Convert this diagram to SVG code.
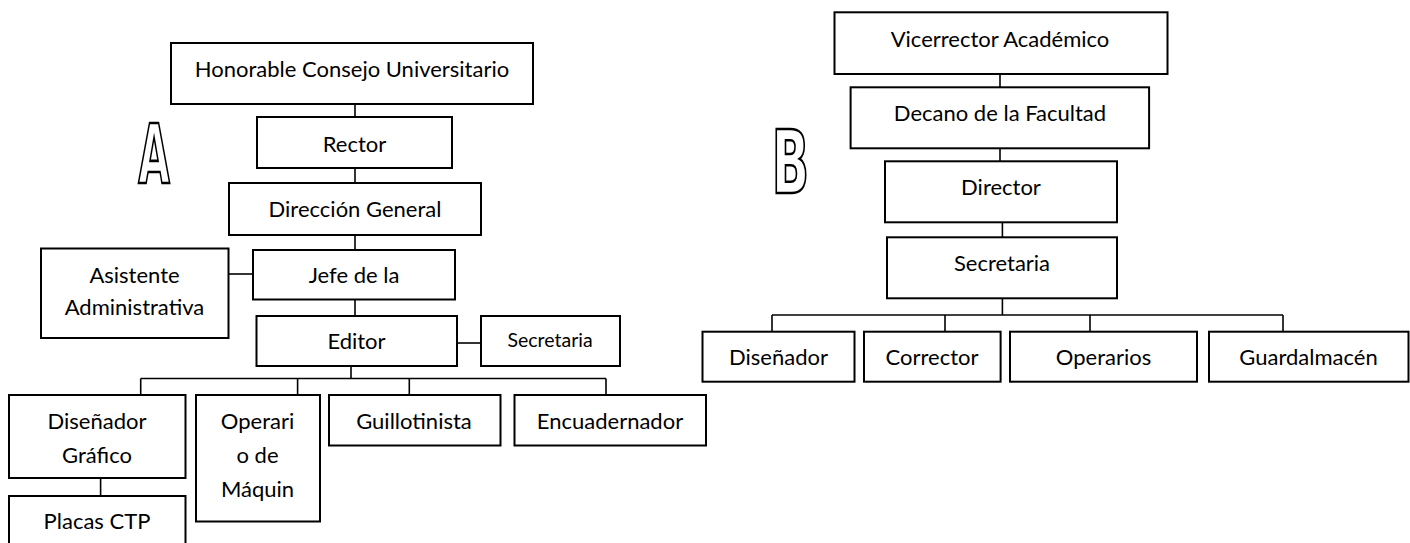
<svg xmlns="http://www.w3.org/2000/svg" width="1410" height="543" viewBox="0 0 1410 543">
<style>
  .box { fill: #ffffff; stroke: #000000; stroke-width: 2; }
  .lbl { font-family: Lato, "Liberation Sans", sans-serif; font-size: 22px; fill: #000000; text-anchor: middle; }
  .sm { font-size: 19.5px; }
  .conn { stroke: #000000; stroke-width: 1.6; fill: none; }
  .big { font-family: "DejaVu Sans", sans-serif; font-weight: bold; font-stretch: condensed; fill: #ffffff; stroke: #000000; stroke-width: 2.6; text-anchor: middle; }
</style>
<rect width="1410" height="543" fill="#ffffff"/>

<g id="connectors">
  <!-- chart A -->
  <line class="conn" x1="355" y1="104" x2="355" y2="117"/>
  <line class="conn" x1="355" y1="168" x2="355" y2="183"/>
  <line class="conn" x1="355" y1="235" x2="355" y2="250"/>
  <line class="conn" x1="228.5" y1="274" x2="253" y2="274"/>
  <line class="conn" x1="355" y1="299.5" x2="355" y2="316"/>
  <line class="conn" x1="457" y1="343" x2="481" y2="343"/>
  <line class="conn" x1="351" y1="366" x2="351" y2="378.5"/>
  <line class="conn" x1="140.7" y1="378.5" x2="606" y2="378.5"/>
  <line class="conn" x1="140.7" y1="378.5" x2="140.7" y2="395"/>
  <line class="conn" x1="297.6" y1="378.5" x2="297.6" y2="395"/>
  <line class="conn" x1="409.3" y1="378.5" x2="409.3" y2="395"/>
  <line class="conn" x1="606" y1="378.5" x2="606" y2="395"/>
  <line class="conn" x1="100.6" y1="478" x2="100.6" y2="496"/>
  <!-- chart B -->
  <line class="conn" x1="1000" y1="74" x2="1000" y2="87.3"/>
  <line class="conn" x1="1000" y1="148.3" x2="1000" y2="161.3"/>
  <line class="conn" x1="1002.4" y1="222.3" x2="1002.4" y2="237.3"/>
  <line class="conn" x1="1002.4" y1="298.3" x2="1002.4" y2="315"/>
  <line class="conn" x1="772" y1="315" x2="1283" y2="315"/>
  <line class="conn" x1="772" y1="315" x2="772" y2="331.7"/>
  <line class="conn" x1="945" y1="315" x2="945" y2="331.7"/>
  <line class="conn" x1="1090" y1="315" x2="1090" y2="331.7"/>
  <line class="conn" x1="1283" y1="315" x2="1283" y2="331.7"/>
</g>

<g id="label-A">
  <text class="big" font-size="81" transform="translate(154,182.5) scale(0.56,1)">A</text>
</g>
<g id="label-B">
  <text class="big" font-size="88" transform="translate(790.5,192.5) scale(0.62,1)">B</text>
</g>

<!-- Chart A nodes -->
<g id="node-honorable">
  <rect class="box" x="171" y="43" width="362" height="61"/>
  <text class="lbl" x="352" y="77.3">Honorable Consejo Universitario</text>
</g>
<g id="node-rector">
  <rect class="box" x="257" y="117" width="195" height="51"/>
  <text class="lbl" x="354.5" y="151.7">Rector</text>
</g>
<g id="node-direccion">
  <rect class="box" x="229" y="183" width="252" height="52"/>
  <text class="lbl" x="355" y="217.3">Dirección General</text>
</g>
<g id="node-jefe">
  <rect class="box" x="253" y="250" width="202" height="49.5"/>
  <text class="lbl" x="354" y="282.7">Jefe de la</text>
</g>
<g id="node-asistente">
  <rect class="box" x="41" y="248.5" width="187.5" height="89.5"/>
  <text class="lbl" x="134.5" y="282.7">Asistente</text>
  <text class="lbl" x="134.5" y="315">Administrativa</text>
</g>
<g id="node-editor">
  <rect class="box" x="256.5" y="316" width="200.5" height="50"/>
  <text class="lbl" x="356.5" y="349.3">Editor</text>
</g>
<g id="node-secretaria-a">
  <rect class="box" x="481" y="316" width="139" height="50"/>
  <text class="lbl sm" x="550" y="346.7">Secretaria</text>
</g>
<g id="node-disenador-grafico">
  <rect class="box" x="9" y="395" width="176.5" height="83"/>
  <text class="lbl" x="97" y="429.3">Diseñador</text>
  <text class="lbl" x="97" y="463.3">Gráfico</text>
</g>
<g id="node-operario">
  <rect class="box" x="196" y="395" width="124" height="126.5"/>
  <text class="lbl" x="257.5" y="429.3">Operari</text>
  <text class="lbl" x="257.5" y="463.3">o de</text>
  <text class="lbl" x="257.5" y="496.7">Máquin</text>
</g>
<g id="node-guillotinista">
  <rect class="box" x="329" y="395" width="171.5" height="50.5"/>
  <text class="lbl" x="414" y="429.3">Guillotinista</text>
</g>
<g id="node-encuadernador">
  <rect class="box" x="514.5" y="395" width="191.5" height="50.5"/>
  <text class="lbl" x="610" y="429.3">Encuadernador</text>
</g>
<g id="node-placas">
  <rect class="box" x="9" y="496" width="176.5" height="60"/>
  <text class="lbl" x="97" y="529.3">Placas CTP</text>
</g>

<!-- Chart B nodes -->
<g id="node-vicerrector">
  <rect class="box" x="834.5" y="12.3" width="333" height="61.7"/>
  <text class="lbl" x="1000" y="46.7">Vicerrector Académico</text>
</g>
<g id="node-decano">
  <rect class="box" x="850.6" y="87.3" width="298.5" height="61"/>
  <text class="lbl" x="1000" y="120.7">Decano de la Facultad</text>
</g>
<g id="node-director">
  <rect class="box" x="885" y="161.3" width="232" height="61"/>
  <text class="lbl" x="1001" y="195">Director</text>
</g>
<g id="node-secretaria-b">
  <rect class="box" x="887" y="237.3" width="230" height="61"/>
  <text class="lbl" x="1002" y="270.7">Secretaria</text>
</g>
<g id="node-disenador">
  <rect class="box" x="702.5" y="331.7" width="152" height="50"/>
  <text class="lbl" x="778.5" y="365">Diseñador</text>
</g>
<g id="node-corrector">
  <rect class="box" x="864" y="331.7" width="136.6" height="50"/>
  <text class="lbl" x="932" y="365">Corrector</text>
</g>
<g id="node-operarios">
  <rect class="box" x="1010" y="331.7" width="187" height="50"/>
  <text class="lbl" x="1103.5" y="365">Operarios</text>
</g>
<g id="node-guardalmacen">
  <rect class="box" x="1209" y="331.7" width="199.5" height="50"/>
  <text class="lbl" x="1308.5" y="365">Guardalmacén</text>
</g>
</svg>
